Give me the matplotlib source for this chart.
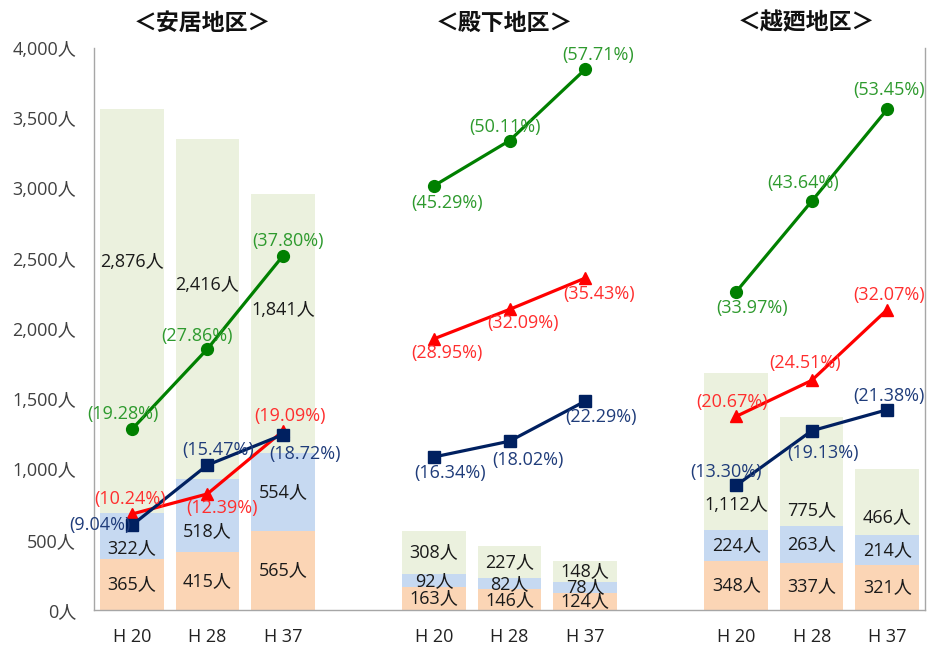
import matplotlib
matplotlib.use("Agg")
import matplotlib.pyplot as plt
from matplotlib.transforms import blended_transform_factory

plt.rcParams['font.family'] = ['Open Sans', 'Noto Sans CJK JP', 'DejaVu Sans']

# ---- data ----
groups = ['＜安居地区＞', '＜殿下地区＞', '＜越廼地区＞']
years = ['H 20', 'H 28', 'H 37']
pop_bottom = [365, 415, 565, 163, 146, 124, 348, 337, 321]
pop_middle = [322, 518, 554, 92, 82, 78, 224, 263, 214]
pop_top = [2876, 2416, 1841, 308, 227, 148, 1112, 775, 466]
rate_green = [19.28, 27.86, 37.80, 45.29, 50.11, 57.71, 33.97, 43.64, 53.45]
rate_red = [10.24, 12.39, 19.09, 28.95, 32.09, 35.43, 20.67, 24.51, 32.07]
rate_navy = [9.04, 15.47, 18.72, 16.34, 18.02, 22.29, 13.30, 19.13, 21.38]
y_ticks = [0, 500, 1000, 1500, 2000, 2500, 3000, 3500, 4000]

# ---- styles ----
c_bottom = '#FBD5B5'
c_middle = '#C6D9F1'
c_top = '#EBF1DE'
c_green, c_green_t = '#008000', '#2E9A2E'
c_red, c_red_t = '#FF0000', '#FF2E2E'
c_navy, c_navy_t = '#002060', '#1F3C7A'
FS = 13

# label offsets in pixels (dx right, dy down)
top_off = [-49, -24, -13, 0, 0, 0, 53, 39, 15]
mid_off = [12, 16, 0, 0, 0, 0, 0, 0, 0]
green_off = [(-9, -15), (-10, -13), (5, -15), (13, 17), (-5, -14), (13, -14),
             (16, 16), (-9, -18), (2, -19)]
red_off = [(-2, -15), (15, 14), (7, -15), (13, 14), (13, 14), (14, 16),
           (-4, -14), (-7, -17), (2, -15)]
navy_off = [(-32, 0), (11, -15), (22, 19), (16, 16), (18, 19), (16, 16),
            (-10, -13), (11, 22), (2, -14)]

W, H = 927, 651
fig = plt.figure(figsize=(W / 100, H / 100), dpi=100)
ax = fig.add_axes([94 / W, 1 - 610 / H, (925 - 94) / W, (610 - 48) / H])
ax2 = ax.twinx()

x = [g * 4 + j for g in range(len(groups)) for j in range(len(years))]
bw = 0.84
mid_base = pop_bottom
top_base = [a + b for a, b in zip(pop_bottom, pop_middle)]
ax.bar(x, pop_bottom, width=bw, color=c_bottom, zorder=1)
ax.bar(x, pop_middle, width=bw, bottom=mid_base, color=c_middle, zorder=1)
ax.bar(x, pop_top, width=bw, bottom=top_base, color=c_top, zorder=1)

PX = 0.72  # points per pixel


def seg_label(xx, base, h, off):
    ax.annotate(f'{h:,}人', (xx, base + h / 2), xytext=(0, -off * PX),
                textcoords='offset points', ha='center', va='center',
                fontsize=FS, color='#1a1a1a', zorder=3)


for i, xx in enumerate(x):
    seg_label(xx, 0, pop_bottom[i], 0)
    seg_label(xx, mid_base[i], pop_middle[i], mid_off[i])
    seg_label(xx, top_base[i], pop_top[i], top_off[i])

ax.set_ylim(0, 4000)
ax.set_xlim(-0.5, 10.5)
ax2.set_ylim(0, 60)

for rates, col, tcol, mk, ms, offs in [
        (rate_green, c_green, c_green_t, 'o', 8.5, green_off),
        (rate_red, c_red, c_red_t, '^', 9, red_off),
        (rate_navy, c_navy, c_navy_t, 's', 8, navy_off)]:
    for g in range(len(groups)):
        sl = slice(g * 3, g * 3 + 3)
        ax2.plot(x[sl], rates[sl], color=col, lw=2.3, marker=mk, ms=ms,
                 zorder=4)
    for i, xx in enumerate(x):
        dx, dy = offs[i]
        ax2.annotate(f'({rates[i]:.2f}%)', (xx, rates[i]),
                     xytext=(dx * PX, -dy * PX), textcoords='offset points',
                     ha='center', va='center', fontsize=FS, color=tcol,
                     zorder=5)

ax.set_yticks(y_ticks)
ax.set_yticklabels([f'{v:,}人' for v in y_ticks], fontsize=13, color='#404040')
ax.set_xticks(x)
ax.set_xticklabels(years * len(groups), fontsize=13, color='#222222')
ax.tick_params(axis='both', length=0)
ax.tick_params(axis='y', pad=13)
ax.tick_params(axis='x', pad=13)
ax2.set_yticks([])

for a in (ax, ax2):
    a.spines['top'].set_visible(False)
    for s in ('left', 'right', 'bottom'):
        a.spines[s].set_color('#A6A6A6')
        a.spines[s].set_linewidth(1.0)
ax.spines['right'].set_visible(False)
ax2.spines['left'].set_visible(False)
ax2.spines['bottom'].set_visible(False)

trans = blended_transform_factory(ax.transData, ax.transAxes)
for g, name in enumerate(groups):
    ax.text(g * 4 + 1 - 0.07, 1 + (48 - 23) / 562, name, transform=trans,
            ha='center', va='center', fontsize=16.5, fontweight='bold',
            color='#111111', family=['Noto Sans CJK JP'])

fig.savefig('out.png', dpi=100)
